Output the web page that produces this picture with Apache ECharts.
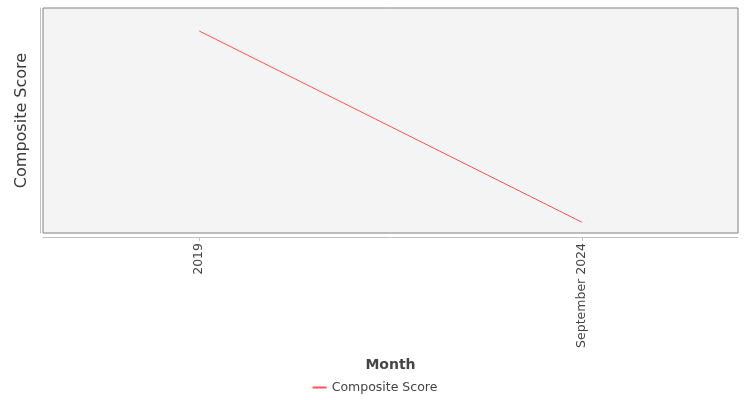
<!DOCTYPE html>
<html><head><meta charset="utf-8">
<script src="https://cdn.jsdelivr.net/npm/echarts@6/dist/echarts.min.js"></script>
<style>html,body{margin:0;padding:0;background:#fff}#c{width:750px;height:400px}</style>
</head><body><div id="c"></div>
<script>
const categories = ['2019', 'September 2024'];
const seriesName = 'Composite Score';
const values = [68.2, 52.4];

const chart = echarts.init(document.getElementById('c'));
const font = 'DejaVu Sans';
chart.setOption({
  animation: false,
  textStyle: {fontFamily: font},
  grid: {left: 43, right: 12, top: 8, bottom: 167, show: true, backgroundColor: '#f4f4f4', borderColor: '#808080', borderWidth: 1},
  xAxis: {
    type: 'value', min: -0.4084, max: 1.4084,
    offset: 4,
    name: 'Month', nameLocation: 'middle', nameGap: 121,
    nameTextStyle: {fontFamily: font, fontSize: 14, fontWeight: 'bold', color: '#444'},
    axisLine: {show: true, onZero: false, lineStyle: {color: '#c0c0c0'}},
    axisTick: {show: true, length: 4, lineStyle: {color: '#c0c0c0'}, customValues: [0, 1]},
    axisLabel: {rotate: 90, fontSize: 12.5, color: '#444', margin: 6, fontFamily: font,
      customValues: [0, 1], formatter: v => categories[Math.round(v)] || ''},
    splitLine: {show: false}
  },
  yAxis: {
    type: 'value', min: 51.5, max: 70.1,
    offset: 3,
    name: 'Composite Score', nameLocation: 'middle', nameGap: 10, nameRotate: 90,
    nameTextStyle: {fontFamily: font, fontSize: 16, color: '#3a3a3a'},
    axisLine: {show: true, onZero: false, lineStyle: {color: '#c0c0c0'}},
    axisTick: {show: false},
    axisLabel: {show: false},
    splitLine: {show: false}
  },
  legend: {
    bottom: 1, left: 'center', itemWidth: 14, itemHeight: 2, itemGap: 5,
    icon: 'rect',
    textStyle: {fontFamily: font, fontSize: 12.5, color: '#444'},
    data: [seriesName]
  },
  series: [{
    name: seriesName, type: 'line', symbol: 'none',
    lineStyle: {color: '#ff5555', width: 1}, itemStyle: {color: '#ff5555'},
    data: values.map((v, i) => [i, v])
  }]
});
</script></body></html>
